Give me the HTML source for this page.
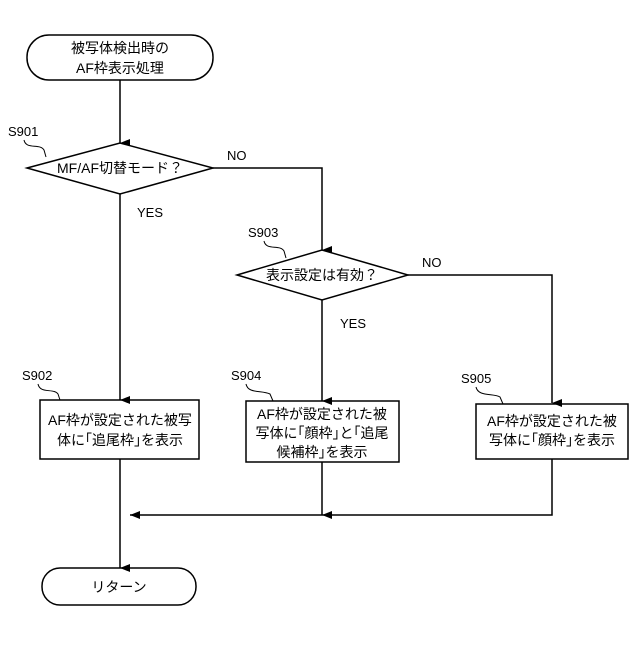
<!DOCTYPE html>
<html><head><meta charset="utf-8"><style>body{margin:0;background:#fff}</style></head><body>
<svg width="640" height="640" xmlns="http://www.w3.org/2000/svg" font-family="Liberation Sans, Noto Sans CJK JP, sans-serif" font-size="14" fill="#000">
<defs><marker id="a" markerWidth="8" markerHeight="10" refX="4" refY="10" orient="auto-start-reverse" markerUnits="userSpaceOnUse"><path d="M0,0 L8,0 L4,10z" fill="#000"/></marker>
<marker id="l" markerWidth="10" markerHeight="8" refX="0" refY="4" markerUnits="userSpaceOnUse"><path d="M10,0 L10,8 L0,4z" fill="#000"/></marker></defs>
<g stroke="#000" stroke-width="1.5" fill="none">
<rect x="27" y="35" width="186" height="45" rx="22"/>
<line x1="120" y1="80" x2="120" y2="143" marker-end="url(#a)"/>
<polygon points="27,168 120,143 213,168 120,194" fill="#fff"/>
<polyline points="213,168 322,168 322,250" marker-end="url(#a)"/>
<polygon points="237,275 322,250 408,275 322,300" fill="#fff"/>
<polyline points="408,275 552,275 552,403" marker-end="url(#a)"/>
<line x1="120" y1="194" x2="120" y2="400" marker-end="url(#a)"/>
<line x1="322" y1="300" x2="322" y2="401" marker-end="url(#a)"/>
<rect x="40" y="400" width="159" height="59"/>
<rect x="246" y="401" width="153" height="61"/>
<rect x="476" y="404" width="152" height="55"/>
<line x1="322" y1="462" x2="322" y2="515" marker-end="url(#a)"/>
<polyline points="552,459 552,515 130,515" marker-end="url(#l)"/>
<line x1="120" y1="459" x2="120" y2="568" marker-end="url(#a)"/>
<rect x="42" y="568" width="154" height="37" rx="18"/>
<path d="M24,140 C26,150 40,143 44,150 L46,157" stroke-width="1"/>
<path d="M38,384 C40,394 54,388 58,394 L60,400" stroke-width="1"/>
<path d="M264,241 C266,251 280,244 284,251 L286,258" stroke-width="1"/>
<path d="M246,384 C248,394 262,390 270,394 L273,401" stroke-width="1"/>
<path d="M476,387 C478,397 494,393 500,397 L503,404" stroke-width="1"/>
</g>
<g text-anchor="middle">
<text x="120" y="53">被写体検出時の</text>
<text x="120" y="73">AF枠表示処理</text>
<text x="120" y="173">MF/AF切替モード？</text>
<text x="322" y="280">表示設定は有効？</text>
<text x="120" y="425">AF枠が設定された被写</text>
<text x="120" y="445">体に｢追尾枠｣を表示</text>
<text x="322" y="419">AF枠が設定された被</text>
<text x="322" y="438">写体に｢顔枠｣と｢追尾</text>
<text x="322" y="457">候補枠｣を表示</text>
<text x="552" y="426">AF枠が設定された被</text>
<text x="552" y="445">写体に｢顔枠｣を表示</text>
<text x="119" y="592">リターン</text>
</g>
<g font-size="13">
<text x="227" y="160">NO</text><text x="137" y="217">YES</text>
<text x="422" y="267">NO</text><text x="340" y="328">YES</text>
<text x="8" y="136">S901</text><text x="22" y="380">S902</text>
<text x="248" y="237">S903</text><text x="231" y="380">S904</text>
<text x="461" y="383">S905</text>
</g>
</svg>
</body></html>
